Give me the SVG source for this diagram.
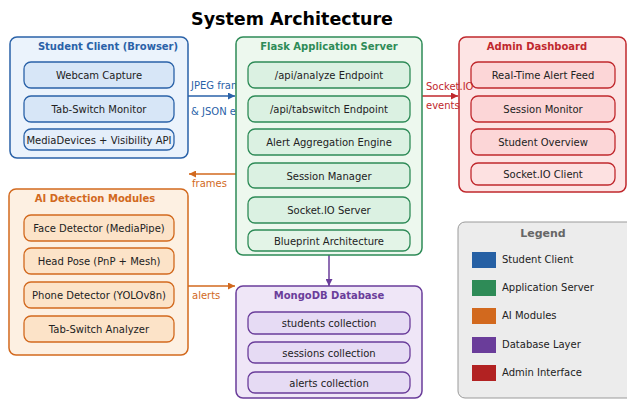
<svg xmlns="http://www.w3.org/2000/svg" width="627" height="400" viewBox="0 0 627 400">
  <defs>
    <style>
      text { font-family: "DejaVu Sans", "Liberation Sans", sans-serif; }
      .title { font-size: 17.5px; font-weight: bold; fill: #000; text-anchor: middle; }
      .head { font-size: 10px; font-weight: bold; text-anchor: middle; }
      .leghead { font-size: 11px; font-weight: bold; text-anchor: middle; fill: #666; }
      .item { font-size: 10px; fill: #222; text-anchor: middle; }
      .lbl { font-size: 10px; }
      .leg { font-size: 10px; fill: #222; }
      .outer { stroke-width: 1.5; }
      .inner { stroke-width: 1.3; }
      .blue { stroke: #2a62a8; } .blue.outer { fill: #ebf3fc; } .blue.inner { fill: #d7e6f7; } .blue.inner.soft { fill: #e4eefa; }
      .green { stroke: #2e8b57; } .green.outer { fill: #edf8ee; } .green.inner { fill: #dbf1e2; } .green.inner.soft { fill: #e3f4e7; }
      .orange { stroke: #d2691e; } .orange.outer { fill: #fdf0e2; } .orange.inner { fill: #fce3c8; }
      .purple { stroke: #6a3d9a; } .purple.outer { fill: #efe6f7; } .purple.inner { fill: #e6dbf4; }
      .red { stroke: #c0282d; } .red.outer { fill: #fde4e4; } .red.inner { fill: #fcd6d7; } .red.inner.soft { fill: #fde1e1; }
      .conn { fill: none; stroke-width: 1.5; }
    </style>
    <marker id="ah-blue" viewBox="0 0 10 10" refX="10" refY="5" markerWidth="7" markerHeight="7" orient="auto" markerUnits="userSpaceOnUse"><path d="M0,0 L10,5 L0,10 z" fill="#2a62a8"/></marker>
    <marker id="ah-red" viewBox="0 0 10 10" refX="10" refY="5" markerWidth="7" markerHeight="7" orient="auto" markerUnits="userSpaceOnUse"><path d="M0,0 L10,5 L0,10 z" fill="#c0282d"/></marker>
    <marker id="ah-orange" viewBox="0 0 10 10" refX="10" refY="5" markerWidth="7" markerHeight="7" orient="auto" markerUnits="userSpaceOnUse"><path d="M0,0 L10,5 L0,10 z" fill="#d2691e"/></marker>
    <marker id="ah-purple" viewBox="0 0 10 10" refX="10" refY="5" markerWidth="7" markerHeight="7" orient="auto" markerUnits="userSpaceOnUse"><path d="M0,0 L10,5 L0,10 z" fill="#6a3d9a"/></marker>
  </defs>

  <rect width="627" height="400" fill="#ffffff"/>
  <text class="title" x="292" y="25">System Architecture</text>

  <!-- Student client -->
  <g id="student-client">
    <rect class="outer blue" x="10" y="37" width="178" height="121" rx="7"/>
    <text class="head" x="108" y="50" fill="#2a62a8">Student Client (Browser)</text>
    <rect class="inner blue" x="24" y="62" width="150" height="26" rx="7"/>
    <text class="item" x="99" y="79">Webcam Capture</text>
    <rect class="inner blue" x="24" y="96" width="150" height="26" rx="7"/>
    <text class="item" x="99" y="113">Tab-Switch Monitor</text>
    <rect class="inner blue soft" x="24" y="129" width="150" height="21" rx="7"/>
    <text class="item" x="99" y="143.5">MediaDevices + Visibility API</text>
  </g>

  <!-- Admin dashboard -->
  <g id="admin-dashboard">
    <rect class="outer red" x="459" y="37" width="167" height="155" rx="7"/>
    <text class="head" x="537" y="50" fill="#c0282d">Admin Dashboard</text>
    <rect class="inner red" x="471" y="62" width="144" height="26" rx="7"/>
    <text class="item" x="543" y="79">Real-Time Alert Feed</text>
    <rect class="inner red" x="471" y="96" width="144" height="26" rx="7"/>
    <text class="item" x="543" y="113">Session Monitor</text>
    <rect class="inner red" x="471" y="129" width="144" height="26" rx="7"/>
    <text class="item" x="543" y="146">Student Overview</text>
    <rect class="inner red soft" x="471" y="163" width="144" height="22" rx="7"/>
    <text class="item" x="543" y="178">Socket.IO Client</text>
  </g>

  <!-- Connectors -->
  <g id="connectors">
    <path class="conn" d="M188,96 L235,96" stroke="#2a62a8" marker-end="url(#ah-blue)"/>
    <text class="lbl" x="191" y="89" fill="#2a62a8">JPEG frames</text>
    <text class="lbl" x="191" y="115" fill="#2a62a8">&amp; JSON events</text>

    <path class="conn" d="M422,96 L458,96" stroke="#c0282d" marker-end="url(#ah-red)"/>
    <text class="lbl" x="426" y="90" fill="#c0282d">Socket.IO</text>
    <text class="lbl" x="426" y="109" fill="#c0282d">events</text>

    <path class="conn" d="M236,174 L189,174" stroke="#d2691e" marker-end="url(#ah-orange)"/>
    <text class="lbl" x="192" y="187" fill="#d2691e">frames</text>

    <path class="conn" d="M188,286 L235,286" stroke="#d2691e" marker-end="url(#ah-orange)"/>
    <text class="lbl" x="192" y="299" fill="#d2691e">alerts</text>

    <path class="conn" d="M329,255 L329,286" stroke="#6a3d9a" marker-end="url(#ah-purple)"/>
  </g>

  <!-- Flask application server -->
  <g id="flask-server">
    <rect class="outer green" x="236" y="37" width="186" height="218" rx="7"/>
    <text class="head" x="329" y="50" fill="#2e8b57">Flask Application Server</text>
    <rect class="inner green" x="248" y="62" width="162" height="26" rx="7"/>
    <text class="item" x="329" y="79">/api/analyze Endpoint</text>
    <rect class="inner green" x="248" y="96" width="162" height="26" rx="7"/>
    <text class="item" x="329" y="113">/api/tabswitch Endpoint</text>
    <rect class="inner green" x="248" y="129" width="162" height="26" rx="7"/>
    <text class="item" x="329" y="146">Alert Aggregation Engine</text>
    <rect class="inner green" x="248" y="163" width="162" height="25" rx="7"/>
    <text class="item" x="329" y="179.5">Session Manager</text>
    <rect class="inner green" x="248" y="197" width="162" height="26" rx="7"/>
    <text class="item" x="329" y="214">Socket.IO Server</text>
    <rect class="inner green soft" x="248" y="230" width="162" height="21" rx="7"/>
    <text class="item" x="329" y="244.5">Blueprint Architecture</text>
  </g>

  <!-- AI detection modules -->
  <g id="ai-modules">
    <rect class="outer orange" x="9" y="189" width="179" height="166" rx="7"/>
    <text class="head" x="95" y="202" fill="#d2691e">AI Detection Modules</text>
    <rect class="inner orange" x="24" y="215" width="150" height="26" rx="7"/>
    <text class="item" x="99" y="232">Face Detector (MediaPipe)</text>
    <rect class="inner orange" x="24" y="248" width="150" height="26" rx="7"/>
    <text class="item" x="99" y="265">Head Pose (PnP + Mesh)</text>
    <rect class="inner orange" x="24" y="282" width="150" height="26" rx="7"/>
    <text class="item" x="99" y="299">Phone Detector (YOLOv8n)</text>
    <rect class="inner orange" x="24" y="316" width="150" height="26" rx="7"/>
    <text class="item" x="99" y="333">Tab-Switch Analyzer</text>
  </g>

  <!-- MongoDB database -->
  <g id="mongodb">
    <rect class="outer purple" x="236" y="286" width="186" height="112" rx="7"/>
    <text class="head" x="329" y="299" fill="#6a3d9a">MongoDB Database</text>
    <rect class="inner purple" x="248" y="312" width="162" height="22" rx="7"/>
    <text class="item" x="329" y="327">students collection</text>
    <rect class="inner purple" x="248" y="342" width="162" height="21" rx="7"/>
    <text class="item" x="329" y="356.5">sessions collection</text>
    <rect class="inner purple" x="248" y="372" width="162" height="21" rx="7"/>
    <text class="item" x="329" y="386.5">alerts collection</text>
  </g>

  <!-- Legend -->
  <g id="legend">
    <rect x="458" y="222" width="180" height="176" rx="7" fill="#ececec" stroke="#9a9a9a" stroke-width="1"/>
    <text class="leghead" x="543" y="237">Legend</text>
    <rect x="472" y="252" width="24" height="16" fill="#2660a4"/>
    <text class="leg" x="502" y="263">Student Client</text>
    <rect x="472" y="280" width="24" height="16" fill="#2e8b57"/>
    <text class="leg" x="502" y="291">Application Server</text>
    <rect x="472" y="308" width="24" height="16" fill="#d2691e"/>
    <text class="leg" x="502" y="319">AI Modules</text>
    <rect x="472" y="337" width="24" height="16" fill="#6a3d9a"/>
    <text class="leg" x="502" y="348">Database Layer</text>
    <rect x="472" y="365" width="24" height="16" fill="#b22222"/>
    <text class="leg" x="502" y="376">Admin Interface</text>
  </g>
</svg>
